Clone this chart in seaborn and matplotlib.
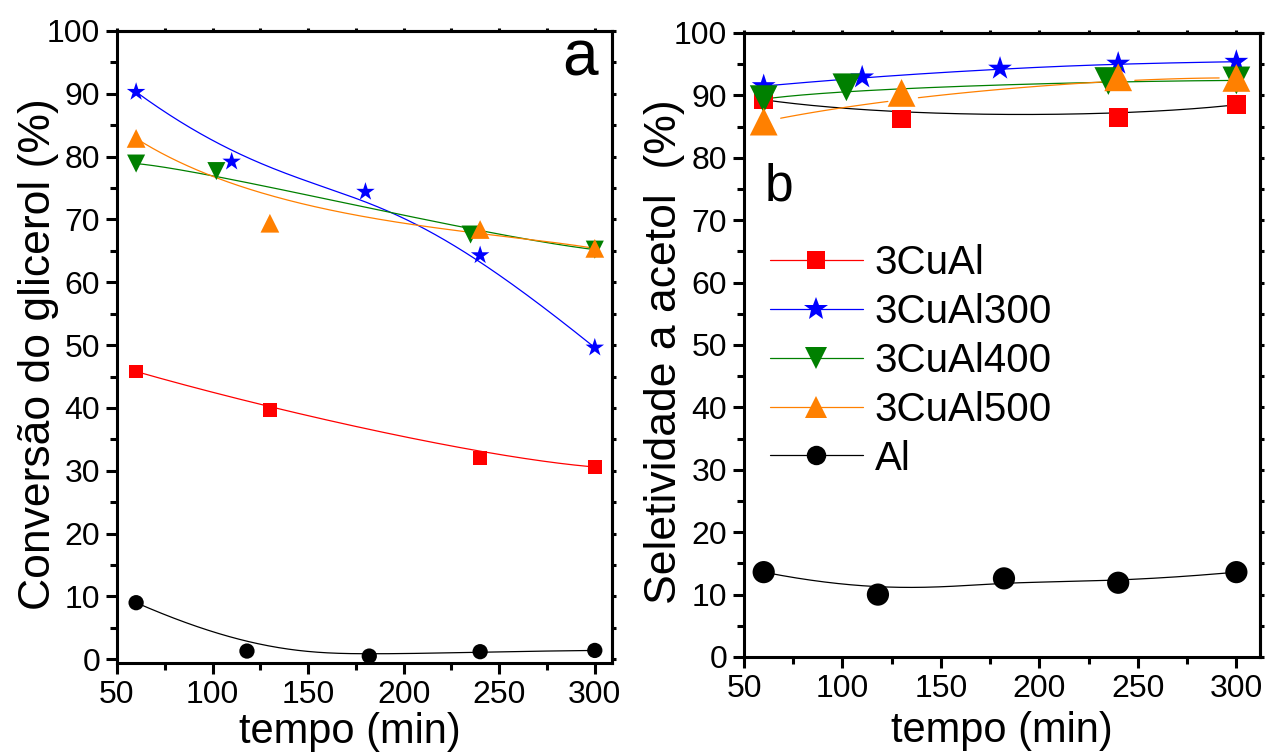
import numpy as np
import pandas as pd
import seaborn as sns
import matplotlib.pyplot as plt
from matplotlib.lines import Line2D
from matplotlib.ticker import MultipleLocator

# tempo (min) e valores
series = ["3CuAl", "3CuAl300", "3CuAl400", "3CuAl500", "Al"]
cores = ["#ff0000", "#0000ff", "#008000", "#ff8000", "#000000"]
marcadores = ["s", "*", "v", "^", "o"]

# (a) conversao do glicerol (%)
t_a = {
    "3CuAl": [60, 130, 240, 300],
    "3CuAl300": [60, 110, 180, 240, 300],
    "3CuAl400": [60, 102, 235, 300],
    "3CuAl500": [60, 130, 240, 300],
    "Al": [60, 118, 182, 240, 300],
}
conv = {
    "3CuAl": [45.8, 39.7, 32.1, 30.6],
    "3CuAl300": [90.3, 79.2, 74.4, 64.3, 49.6],
    "3CuAl400": [78.9, 77.7, 67.6, 65.2],
    "3CuAl500": [82.9, 69.4, 68.4, 65.4],
    "Al": [9.0, 1.3, 0.5, 1.2, 1.4],
}

# (b) seletividade a acetol (%)
t_b = {
    "3CuAl": [60, 130, 240, 300],
    "3CuAl300": [60, 110, 180, 240, 300],
    "3CuAl400": [60, 102, 235, 300],
    "3CuAl500": [60, 130, 240, 300],
    "Al": [60, 118, 182, 240, 300],
}
selet = {
    "3CuAl": [89.3, 86.2, 86.4, 88.5],
    "3CuAl300": [91.5, 92.9, 94.3, 95.1, 95.4],
    "3CuAl400": [89.4, 91.3, 92.3, 92.4],
    "3CuAl500": [85.8, 90.4, 92.9, 92.8],
    "Al": [13.6, 10.0, 12.6, 11.9, 13.6],
}


def bspline(xs, ys, num=300):
    # ligacao tipo B-spline (como no Origin), pontos como pontos de controle
    P = np.column_stack([xs, ys]).astype(float)
    n = len(P)
    k = min(3, n - 1)
    u = np.concatenate([np.zeros(k), np.linspace(0, 1, n - k + 1), np.ones(k)])
    t = np.linspace(0, 1, num)
    N = np.zeros((len(u) - 1, num))
    for i in range(len(u) - 1):
        N[i] = (u[i] <= t) & (t < u[i + 1])
    N[n - 1, -1] = 1.0
    for d in range(1, k + 1):
        Nn = np.zeros((len(u) - 1 - d, num))
        for i in range(len(u) - 1 - d):
            a = (t - u[i]) / (u[i + d] - u[i]) if u[i + d] > u[i] else 0 * t
            b = (u[i + d + 1] - t) / (u[i + d + 1] - u[i + 1]) if u[i + d + 1] > u[i + 1] else 0 * t
            Nn[i] = a * N[i] + b * N[i + 1]
        N = Nn
    C = N[:n].T @ P
    return C[:, 0], C[:, 1]


def trechos(cx, cy, xs, ys, gap_px, sx, sy):
    # corta a linha perto dos simbolos (gap to symbol)
    visivel = np.ones(len(cx), dtype=bool)
    for x0, y0 in zip(xs, ys):
        d = np.hypot((cx - x0) * sx, (cy - y0) * sy)
        visivel &= d > gap_px
    partes, atual = [], []
    for i in range(len(cx)):
        if visivel[i]:
            atual.append(i)
        elif atual:
            partes.append(atual)
            atual = []
    if atual:
        partes.append(atual)
    return [(cx[p], cy[p]) for p in partes if len(p) > 1]


sns.set_theme(style="ticks")
plt.rcParams["font.family"] = ["Liberation Sans", "DejaVu Sans"]
plt.rcParams["axes.linewidth"] = 2.2
for k in ["xtick.major.width", "ytick.major.width", "xtick.minor.width", "ytick.minor.width"]:
    plt.rcParams[k] = 2.2
for k in ["axes.edgecolor", "xtick.color", "ytick.color", "text.color", "axes.labelcolor"]:
    plt.rcParams[k] = "black"

fig = plt.figure(figsize=(12.68, 7.56), dpi=100)
W, H = 1268, 756
ax1 = fig.add_axes([117 / W, 1 - 663 / H, (612 - 117) / W, (663 - 31) / H])
ax2 = fig.add_axes([744 / W, 1 - 657 / H, (1260 - 744) / W, (657 - 33) / H])

ms_a = {"s": 10, "*": 14, "v": 13, "^": 13.5, "o": 11}
ms_b = {"s": 13.5, "*": 18, "v": 20, "^": 20, "o": 16}

for nome, cor, mk in zip(series, cores, marcadores):
    cx, cy = bspline(t_a[nome], conv[nome])
    sns.lineplot(x=cx, y=cy, sort=False, estimator=None, color=cor, lw=0.9, ax=ax1, zorder=2)
    sns.scatterplot(x=t_a[nome], y=conv[nome], marker=mk, s=ms_a[mk] ** 2, color=cor,
                    edgecolor="none", linewidth=0, ax=ax1, zorder=3)

for nome, cor, mk in zip(series, cores, marcadores):
    cx, cy = bspline(t_b[nome], selet[nome])
    cor_linha = "#000000" if nome == "3CuAl" else cor
    gap = 16 if nome == "3CuAl500" else 0
    for px, py in trechos(cx, cy, t_b[nome], selet[nome], gap, 1.97, 6.24):
        sns.lineplot(x=px, y=py, sort=False, estimator=None, color=cor_linha, lw=0.9, ax=ax2, zorder=2)
    sns.scatterplot(x=t_b[nome], y=selet[nome], marker=mk, s=ms_b[mk] ** 2, color=cor,
                    edgecolor="none", linewidth=0, ax=ax2, zorder=3)

ax1.set_xlim(50, 309)
ax1.set_ylim(-0.6, 100)
ax2.set_xlim(50, 312)
ax2.set_ylim(0, 100)

for ax in (ax1, ax2):
    ax.xaxis.set_major_locator(MultipleLocator(50))
    ax.xaxis.set_minor_locator(MultipleLocator(25))
    ax.yaxis.set_major_locator(MultipleLocator(10))
    ax.yaxis.set_minor_locator(MultipleLocator(5))
    ax.tick_params(which="major", direction="out", length=8, labelsize=23, pad=4)
    ax.tick_params(which="minor", direction="out", length=5)
    ax.set_xlabel("tempo (min)", fontsize=30)
    for s in ax.spines.values():
        s.set_visible(True)
    # ticks curtos no topo e na direita
    sx = ax.secondary_xaxis("top")
    sx.xaxis.set_major_locator(MultipleLocator(50))
    sx.xaxis.set_minor_locator(MultipleLocator(25))
    sx.tick_params(which="both", direction="out", length=2.5, labeltop=False)
    sy = ax.secondary_yaxis("right")
    sy.yaxis.set_major_locator(MultipleLocator(10))
    sy.yaxis.set_minor_locator(MultipleLocator(5))
    sy.tick_params(which="both", direction="out", length=3, labelright=False)

ax1.set_ylabel("Conversão do glicerol (%)", fontsize=32)
ax2.set_ylabel("Seletividade a acetol  (%)", fontsize=32)
ax1.yaxis.set_label_coords(-0.117, 0.489)
ax2.yaxis.set_label_coords(-0.114, 0.49)
ax1.xaxis.set_label_coords(0.47, -0.077)
ax2.xaxis.set_label_coords(0.5, -0.087)

ax1.text(0.935, 0.957, "a", transform=ax1.transAxes, fontsize=46, ha="center", va="center")
ax2.text(0.067, 0.753, "b", transform=ax2.transAxes, fontsize=37, ha="center", va="center")

ms_leg = {"s": 13, "*": 18, "v": 16.5, "^": 16.5, "o": 14}
handles = [Line2D([], [], color=c, lw=0.9, marker=m, ms=ms_leg[m], markeredgewidth=0)
           for c, m in zip(cores, marcadores)]
ax2.legend(handles, series, loc="upper left", bbox_to_anchor=(770 / W, 1 - 244 / H),
           bbox_transform=fig.transFigure, frameon=False, fontsize=29, handlelength=2.3,
           handletextpad=0.3, labelspacing=0.27, borderpad=0, borderaxespad=0)

fig.savefig("out.png", dpi=100)
